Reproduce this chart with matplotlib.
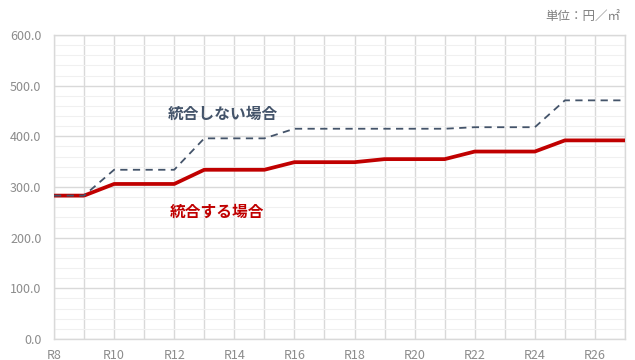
import matplotlib
matplotlib.use("Agg")
import matplotlib.pyplot as plt
from matplotlib.ticker import MultipleLocator

plt.rcParams['font.family'] = ['Noto Sans CJK JP', 'DejaVu Sans']

years = ["R8", "R9", "R10", "R11", "R12", "R13", "R14", "R15", "R16", "R17",
         "R18", "R19", "R20", "R21", "R22", "R23", "R24", "R25", "R26", "R27"]
integrated = [283, 283, 306, 306, 306, 334, 334, 334, 349, 349,
              349, 355, 355, 355, 370, 370, 370, 392, 392, 392]
not_integrated = [283, 283, 334, 334, 334, 396, 396, 396, 415, 415,
                  415, 415, 415, 415, 418, 418, 418, 471, 471, 471]
yticks = [0, 100, 200, 300, 400, 500, 600]

fig = plt.figure(figsize=(6.35, 3.6), dpi=100)
ax = fig.add_axes([54/635, 21/360, 571/635, 304/360])

x = list(range(len(years)))
ax.plot(x, integrated, color="#C00000", lw=2.7, zorder=3)
ax.plot(x, not_integrated, color="#44546A", lw=1.3, ls=(0, (4, 3)), zorder=4)

ax.set_xlim(0, len(years) - 1)
ax.set_ylim(0, 600)
ax.set_yticks(yticks)
ax.set_yticklabels([f"{v:.1f}" for v in yticks])
ax.yaxis.set_minor_locator(MultipleLocator(20))
ax.set_xticks(x[::2])
ax.set_xticklabels(years[::2])
ax.set_xticks(x, minor=True)

ax.grid(which="major", axis="y", color="#d9d9d9", lw=1.0, zorder=0)
ax.grid(which="minor", axis="y", color="#f0f0f0", lw=0.8, zorder=0)
ax.grid(which="both", axis="x", color="#d9d9d9", lw=1.0, zorder=0)
for s in ax.spines.values():
    s.set_color("#d9d9d9")
    s.set_linewidth(1.0)

ax.tick_params(which="both", length=0)
ax.tick_params(axis="y", pad=9, labelsize=9, labelcolor="#8c8c8c")
ax.tick_params(axis="x", pad=7, labelsize=9, labelcolor="#8c8c8c")

ax.text(5.63, 444, "統合しない場合", color="#44546A", fontsize=11.3,
        fontweight="bold", ha="center", va="center")
ax.text(5.42, 251, "統合する場合", color="#C00000", fontsize=11.3,
        fontweight="bold", ha="center", va="center")

fig.text(620/635, 1 - 17/360, "単位：円／㎡", color="#7f7f7f", fontsize=9,
         ha="right", va="center")

fig.savefig("out.png", dpi=100)
